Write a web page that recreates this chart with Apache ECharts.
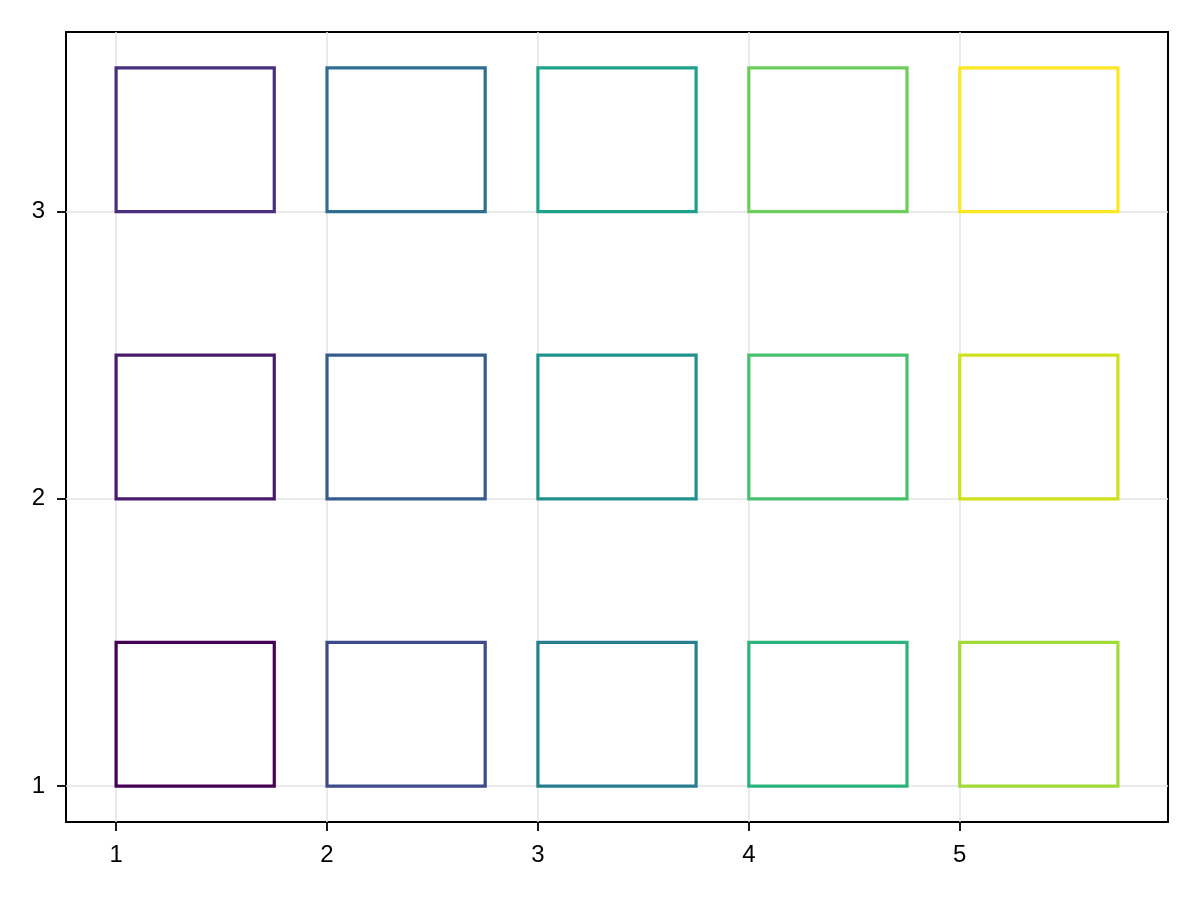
<!DOCTYPE html>
<html>
<head>
<meta charset="utf-8">
<script src="https://cdn.jsdelivr.net/npm/echarts@6/dist/echarts.min.js"></script>
<style>
  html, body { margin: 0; padding: 0; background: #fff; }
  #chart { width: 1200px; height: 900px; }
</style>
</head>
<body>
<div id="chart"></div>
<script>
// lower-left corners of the rectangles, ordered column by column
var xStart = [1, 1, 1, 2, 2, 2, 3, 3, 3, 4, 4, 4, 5, 5, 5];
var yStart = [1, 2, 3, 1, 2, 3, 1, 2, 3, 1, 2, 3, 1, 2, 3];
var rectW = 0.75;
var rectH = 0.5;
// viridis sampled at 15 points
var colors = [
  '#440154', '#481a6c', '#472f7d', '#3e4a89', '#365c8d',
  '#2e6e8e', '#277f8e', '#21918c', '#1fa188', '#2db27d',
  '#48c16e', '#6ccd5a', '#a2da37', '#cde11d', '#fde725'
];
var xTicks = [1, 2, 3, 4, 5];
var yTicks = [1, 2, 3];

var data = xStart.map(function (x, i) {
  return [x, yStart[i], x + rectW, yStart[i] + rectH, i];
});

var chart = echarts.init(document.getElementById('chart'));

function axisCommon(ticks) {
  return {
    type: 'value',
    axisLine: { show: false },
    axisTick: {
      show: true, inside: false, length: 9, customValues: ticks,
      lineStyle: { color: '#000', width: 1.8 }
    },
    axisLabel: {
      customValues: ticks, margin: 21,
      color: '#000', fontSize: 24, fontFamily: 'Liberation Sans, Arial, sans-serif'
    },
    splitLine: { show: true, lineStyle: { color: '#e3e3e3', width: 1.5 } }
  };
}

var xAxis = axisCommon(xTicks);
xAxis.min = 0.7625;
xAxis.max = 5.9875;
var yAxis = axisCommon(yTicks);
yAxis.min = 0.875;
yAxis.max = 3.625;

chart.setOption({
  animation: false,
  backgroundColor: '#fff',
  grid: {
    left: 66, right: 32, top: 32, bottom: 78,
    show: true, borderColor: '#000', borderWidth: 2, backgroundColor: 'transparent'
  },
  xAxis: xAxis,
  yAxis: yAxis,
  series: [{
    type: 'custom',
    data: data,
    z: 5,
    renderItem: function (params, api) {
      var p0 = api.coord([api.value(0), api.value(1)]);
      var p1 = api.coord([api.value(2), api.value(3)]);
      return {
        type: 'rect',
        shape: {
          x: p0[0], y: p1[1],
          width: p1[0] - p0[0], height: p0[1] - p1[1]
        },
        style: {
          fill: 'none',
          stroke: colors[api.value(4)],
          lineWidth: 3.2
        }
      };
    }
  }]
});
</script>
</body>
</html>
